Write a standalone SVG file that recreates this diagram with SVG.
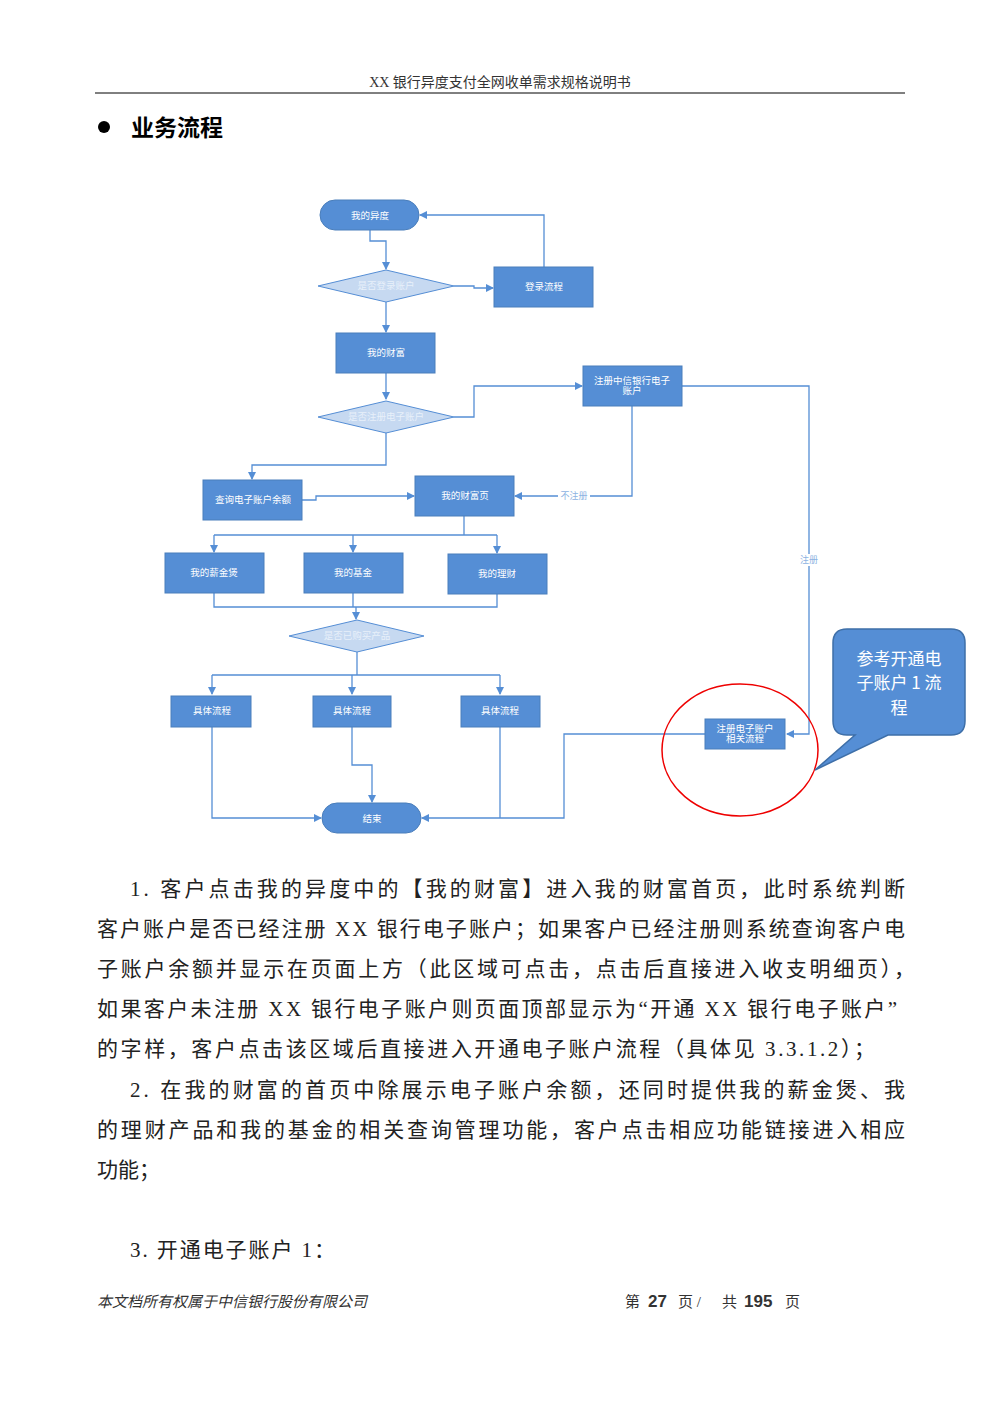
<svg xmlns="http://www.w3.org/2000/svg" width="1000" height="1415" viewBox="0 0 1000 1415">
<style>
.n{fill:#558ed5;stroke:#4a7ebb;stroke-width:1}
.d{fill:#c6d9f1;stroke:#558ed5;stroke-width:1}
.t{font-family:"Liberation Serif","Noto Sans CJK SC",serif;font-size:9.5px;fill:#fff;text-anchor:middle}
.dt{font-family:"Liberation Serif","Noto Sans CJK SC",serif;font-size:9.5px;fill:#e8f0fa;text-anchor:middle}
.c{fill:none;stroke:#558ed5;stroke-width:1.3}
.b{font-family:"Liberation Serif","Noto Sans CJK SC",serif;font-size:21px;fill:#222}
.l{font-family:"Liberation Serif","Noto Sans CJK SC",serif;font-size:9px;fill:#8db3e2;text-anchor:middle}
.f{font-family:"Liberation Serif","Noto Sans CJK SC",serif;font-size:15px;fill:#333}
.fb{font-family:"Liberation Sans",sans-serif;font-size:17px;font-weight:bold;fill:#333}
</style>
<defs><marker id="a" markerWidth="8" markerHeight="8" refX="7" refY="4" orient="auto" markerUnits="userSpaceOnUse"><path d="M0,0L8,4L0,8z" fill="#558ed5"/></marker></defs>
<rect width="1000" height="1415" fill="#fff"/>
<text x="500" y="87" font-family="Liberation Serif,Noto Sans CJK SC,serif" font-size="14" text-anchor="middle" fill="#333">XX 银行异度支付全网收单需求规格说明书</text>
<line x1="95" y1="93" x2="905" y2="93" stroke="#000" stroke-width="1"/>
<circle cx="104" cy="127" r="6" fill="#000"/>
<text x="131" y="136" font-family="Noto Sans CJK SC,sans-serif" font-size="23" font-weight="bold">业务流程</text>
<g id="connectors">
<path class="c" d="M370,230V241H386V269" marker-end="url(#a)"/>
<path class="c" d="M454,286H474V288H493" marker-end="url(#a)"/>
<path class="c" d="M544,267V215H420" marker-end="url(#a)"/>
<path class="c" d="M386,302V332" marker-end="url(#a)"/>
<path class="c" d="M386,373V399" marker-end="url(#a)"/>
<path class="c" d="M454,417H474V386H582" marker-end="url(#a)"/>
<path class="c" d="M386,432V465H252V479" marker-end="url(#a)"/>
<path class="c" d="M302,500H316V496H414" marker-end="url(#a)"/>
<path class="c" d="M632,406V496H515" marker-end="url(#a)"/>
<path class="c" d="M682,386H809V734H787" marker-end="url(#a)"/>
<path class="c" d="M464,516V535"/>
<path class="c" d="M214,535H497"/>
<path class="c" d="M214,535V552" marker-end="url(#a)"/>
<path class="c" d="M353,535V552" marker-end="url(#a)"/>
<path class="c" d="M497,535V553" marker-end="url(#a)"/>
<path class="c" d="M214,593V607H497V594"/>
<path class="c" d="M353,593V607"/>
<path class="c" d="M356,607V619" marker-end="url(#a)"/>
<path class="c" d="M357,652V675"/>
<path class="c" d="M212,675H500"/>
<path class="c" d="M212,675V694" marker-end="url(#a)"/>
<path class="c" d="M352,675V694" marker-end="url(#a)"/>
<path class="c" d="M500,675V694" marker-end="url(#a)"/>
<path class="c" d="M212,726V818H321" marker-end="url(#a)"/>
<path class="c" d="M352,726V765H372V802" marker-end="url(#a)"/>
<path class="c" d="M500,726V818"/>
<path class="c" d="M706,734H564V818H422" marker-end="url(#a)"/>
<rect x="558" y="490" width="32" height="12" fill="#fff"/>
<text class="l" x="574" y="499">不注册</text>
<rect x="797" y="554" width="24" height="12" fill="#fff"/>
<text class="l" x="809" y="563">注册</text>
</g>
<g id="n1"><rect class="n" x="320" y="200" width="99" height="30" rx="15"/><text class="t" x="370" y="219" font-size="11">我的异度</text></g>
<g id="n2"><polygon class="d" points="318,286 386,270 454,286 386,302"/><text class="dt" x="386" y="289">是否登录账户</text></g>
<g id="n3"><rect class="n" x="494" y="267" width="99" height="40"/><text class="t" x="544" y="290">登录流程</text></g>
<g id="n4"><rect class="n" x="336" y="333" width="99" height="40"/><text class="t" x="386" y="356">我的财富</text></g>
<g id="n5"><polygon class="d" points="318,417 386,401 454,417 386,433"/><text class="dt" x="386" y="420">是否注册电子账户</text></g>
<g id="n6"><rect class="n" x="583" y="366" width="99" height="40"/><text class="t" x="632" y="384">注册中信银行电子</text><text class="t" x="632" y="394">账户</text></g>
<g id="n7"><rect class="n" x="203" y="480" width="99" height="40"/><text class="t" x="253" y="503">查询电子账户余额</text></g>
<g id="n8"><rect class="n" x="415" y="476" width="99" height="40"/><text class="t" x="465" y="499">我的财富页</text></g>
<g id="n9"><rect class="n" x="165" y="553" width="99" height="40"/><text class="t" x="214" y="576">我的薪金煲</text></g>
<g id="n10"><rect class="n" x="304" y="553" width="99" height="40"/><text class="t" x="353" y="576">我的基金</text></g>
<g id="n11"><rect class="n" x="448" y="554" width="99" height="40"/><text class="t" x="497" y="577">我的理财</text></g>
<g id="n12"><polygon class="d" points="289,636 357,620 424,636 357,652"/><text class="dt" x="357" y="639">是否已购买产品</text></g>
<g id="n13"><rect class="n" x="171" y="696" width="80" height="31"/><text class="t" x="212" y="714">具体流程</text></g>
<g id="n14"><rect class="n" x="313" y="696" width="78" height="31"/><text class="t" x="352" y="714">具体流程</text></g>
<g id="n15"><rect class="n" x="461" y="696" width="79" height="31"/><text class="t" x="500" y="714">具体流程</text></g>
<g id="n16"><rect class="n" x="322" y="803" width="99" height="30" rx="15"/><text class="t" x="372" y="822" font-size="12">结束</text></g>
<g id="n17"><rect class="n" x="705" y="719" width="80" height="30"/><text class="t" x="745" y="732">注册电子账户</text><text class="t" x="745" y="742">相关流程</text></g>
<ellipse cx="740" cy="750" rx="78" ry="66" fill="none" stroke="#e00" stroke-width="1.5"/>
<g id="callout"><path d="M847,629H951Q965,629 965,643V721Q965,735 951,735H888L815,770L855,735H847Q833,735 833,721V643Q833,629 847,629Z" fill="#558ed5" stroke="#3e6fa8" stroke-width="1.5"/>
<text x="899" y="665" font-family="Noto Sans CJK SC,sans-serif" font-size="17" fill="#fff" text-anchor="middle">参考开通电</text>
<text x="899" y="689" font-family="Noto Sans CJK SC,sans-serif" font-size="17" fill="#fff" text-anchor="middle">子账户 1 流</text>
<text x="899" y="714" font-family="Noto Sans CJK SC,sans-serif" font-size="17" fill="#fff" text-anchor="middle">程</text></g>
<text class="b" x="130" y="896" textLength="775" lengthAdjust="spacing">1. 客户点击我的异度中的【我的财富】进入我的财富首页，此时系统判断</text>
<text class="b" x="97" y="936" textLength="808" lengthAdjust="spacing">客户账户是否已经注册 XX 银行电子账户；如果客户已经注册则系统查询客户电</text>
<text class="b" x="97" y="976" textLength="818" lengthAdjust="spacing">子账户余额并显示在页面上方（此区域可点击，点击后直接进入收支明细页），</text>
<text class="b" x="97" y="1016" textLength="800" lengthAdjust="spacing">如果客户未注册 XX 银行电子账户则页面顶部显示为“开通 XX 银行电子账户”</text>
<text class="b" x="97" y="1056" textLength="778" lengthAdjust="spacing">的字样，客户点击该区域后直接进入开通电子账户流程（具体见 3.3.1.2）；</text>
<text class="b" x="130" y="1097" textLength="775" lengthAdjust="spacing">2. 在我的财富的首页中除展示电子账户余额，还同时提供我的薪金煲、我</text>
<text class="b" x="97" y="1137" textLength="808" lengthAdjust="spacing">的理财产品和我的基金的相关查询管理功能，客户点击相应功能链接进入相应</text>
<text class="b" x="97" y="1177">功能；</text>
<text class="b" x="130" y="1257" textLength="205" lengthAdjust="spacing">3. 开通电子账户 1：</text>
<text class="f" x="97" y="1307" font-style="italic">本文档所有权属于中信银行股份有限公司</text>
<text class="f" x="625" y="1307">第</text><text class="fb" x="648" y="1307">27</text><text class="f" x="678" y="1307">页 /</text>
<text class="f" x="722" y="1307">共</text><text class="fb" x="744" y="1307">195</text><text class="f" x="785" y="1307">页</text>
</svg>
